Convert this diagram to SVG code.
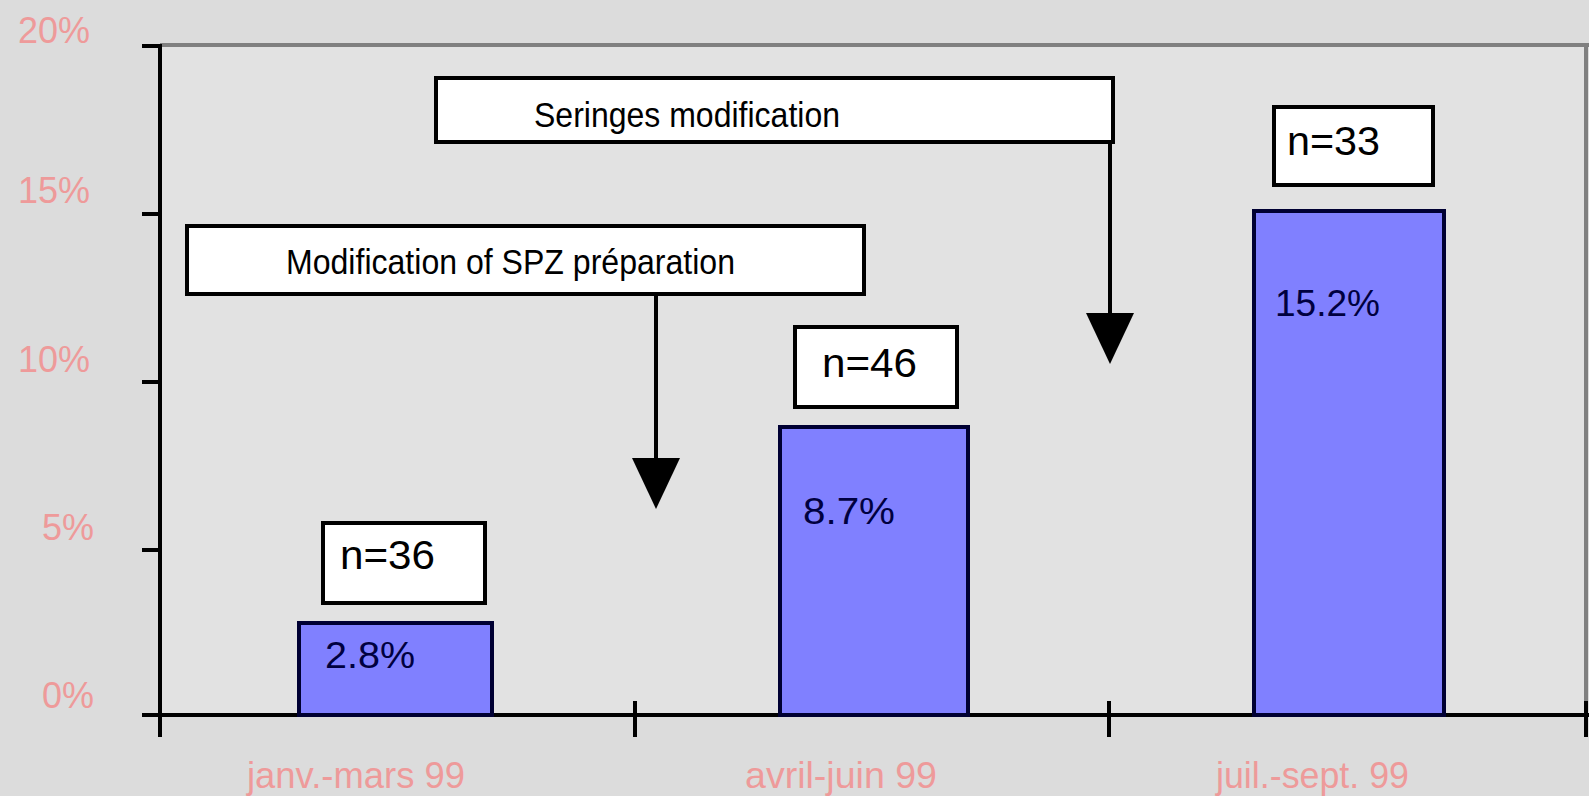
<svg xmlns="http://www.w3.org/2000/svg" width="1589" height="796" viewBox="0 0 1589 796">
<style>
.ax{fill:#ee9a9a;font-family:"Liberation Sans",Arial,sans-serif;font-size:36px}
.lbl{fill:#000;font-family:"Liberation Sans",Arial,sans-serif;font-size:40px}
.val{fill:#000040;font-family:"Liberation Sans",Arial,sans-serif;font-size:37px}
.note{fill:#000;font-family:"Liberation Sans",Arial,sans-serif;font-size:35px}
.box{fill:#fff;stroke:#000;stroke-width:4}
.bar{fill:#8080ff;stroke:#000033;stroke-width:4}
.line{stroke:#000;stroke-width:4;fill:none}
</style>
<defs>
<marker id="ah" markerUnits="userSpaceOnUse" markerWidth="52" markerHeight="50" refX="0" refY="24" orient="auto" viewBox="0 0 52 50">
<path d="M0,0 L51,24 L0,48 Z" fill="#000"/>
</marker>
</defs>
<rect x="0" y="0" width="1589" height="796" fill="#dcdcdc"/>
<rect x="160" y="45" width="1426" height="670" fill="#e2e2e2"/>
<path d="M160,45 H1589 M1586,45 V715" stroke="#808080" stroke-width="4" fill="none"/>
<g id="axes">
<path class="line" d="M160,44 V737 M142,715 H1589 M142,46 H160 M142,214 H160 M142,382 H160 M142,550 H160 M635,701 V737 M1109,701 V737 M1586,701 V737"/>
<text class="ax" x="18" y="43">20%</text>
<text class="ax" x="18" y="203">15%</text>
<text class="ax" x="18" y="372">10%</text>
<text class="ax" x="42" y="540">5%</text>
<text class="ax" x="42" y="708">0%</text>
<text class="ax" x="247" y="788" textLength="218" lengthAdjust="spacingAndGlyphs">janv.-mars 99</text>
<text class="ax" x="745" y="788" textLength="192" lengthAdjust="spacingAndGlyphs">avril-juin 99</text>
<text class="ax" x="1216" y="788" textLength="193" lengthAdjust="spacingAndGlyphs">juil.-sept. 99</text>
</g>
<g id="bar1">
<rect class="bar" x="299" y="623" width="193" height="92"/>
<text class="val" x="325" y="668" textLength="90" lengthAdjust="spacingAndGlyphs">2.8%</text>
</g>
<g id="bar2">
<rect class="bar" x="780" y="427" width="188" height="288"/>
<text class="val" x="803" y="524" textLength="92" lengthAdjust="spacingAndGlyphs">8.7%</text>
</g>
<g id="bar3">
<rect class="bar" x="1254" y="211" width="190" height="504"/>
<text class="val" x="1275" y="316" textLength="105" lengthAdjust="spacingAndGlyphs">15.2%</text>
</g>
<g id="n36">
<rect class="box" x="323" y="523" width="162" height="80"/>
<text class="lbl" x="340" y="569" textLength="95" lengthAdjust="spacingAndGlyphs">n=36</text>
</g>
<g id="n46">
<rect class="box" x="795" y="327" width="162" height="80"/>
<text class="lbl" x="822" y="377" textLength="95" lengthAdjust="spacingAndGlyphs">n=46</text>
</g>
<g id="n33">
<rect class="box" x="1274" y="107" width="159" height="78"/>
<text class="lbl" x="1287" y="155" textLength="93" lengthAdjust="spacingAndGlyphs">n=33</text>
</g>
<g id="note-spz">
<rect class="box" x="187" y="226" width="677" height="68"/>
<text class="note" x="286" y="274" textLength="449" lengthAdjust="spacingAndGlyphs">Modification of SPZ préparation</text>
</g>
<g id="note-seringes">
<rect class="box" x="436" y="78" width="677" height="64"/>
<text class="note" x="534" y="127" textLength="306" lengthAdjust="spacingAndGlyphs">Seringes modification</text>
</g>
<g id="connectors">
<line class="line" x1="656" y1="296" x2="656" y2="458" marker-end="url(#ah)"/>
<line class="line" x1="1110" y1="144" x2="1110" y2="313" marker-end="url(#ah)"/>
</g>
</svg>
